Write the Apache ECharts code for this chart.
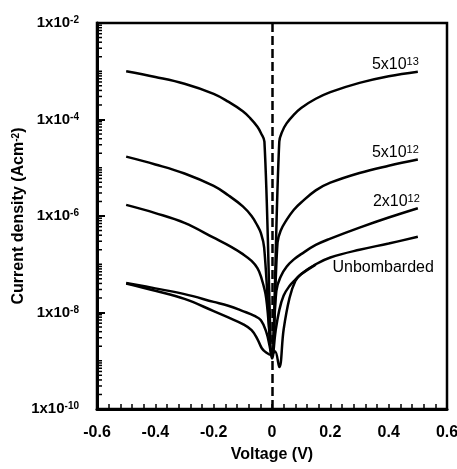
<!DOCTYPE html>
<html>
<head>
<meta charset="utf-8">
<script src="https://cdn.jsdelivr.net/npm/echarts@6/dist/echarts.min.js"></script>
<style>
html, body { margin: 0; padding: 0; background: #fff; }
#chart { width: 457px; height: 469px; }
</style>
</head>
<body>
<div id="chart"></div>
<script>
// voltage (V) / current density (A cm-2)
const v13 = [-0.5, -0.4, -0.3, -0.2, -0.15, -0.1, -0.075, -0.05, -0.038, -0.026, 0.0, 0.025, 0.035, 0.05, 0.075, 0.1, 0.15, 0.2, 0.3, 0.4, 0.5];
const j13 = [1.0e-3, 7.6e-4, 5.5e-4, 3.4e-4, 2.34e-4, 1.48e-4, 1.07e-4, 7.1e-5, 5.25e-5, 3.47e-5, 2.5e-9, 3.47e-5, 5.6e-5, 8.3e-5, 1.26e-4, 1.74e-4, 2.69e-4, 3.7e-4, 5.75e-4, 7.9e-4, 9.8e-4];

const v5e12 = [-0.5, -0.4, -0.3, -0.2, -0.15, -0.1, -0.07, -0.05, -0.038, -0.027, 0.0, 0.019, 0.03, 0.05, 0.075, 0.1, 0.15, 0.2, 0.3, 0.4, 0.5];
const j5e12 = [1.7e-5, 1.17e-5, 7.6e-6, 4.2e-6, 2.69e-6, 1.58e-6, 1.0e-6, 6.3e-7, 4.4e-7, 2.24e-7, 1.41e-9, 2.82e-7, 5.0e-7, 8.3e-7, 1.35e-6, 1.91e-6, 3.4e-6, 4.9e-6, 7.8e-6, 1.1e-5, 1.48e-5];

const v2e12 = [-0.5, -0.4, -0.3, -0.2, -0.14, -0.1, -0.07, -0.05, -0.038, -0.02, 0.0, 0.015, 0.03, 0.05, 0.075, 0.1, 0.15, 0.2, 0.3, 0.4, 0.5];
const j2e12 = [1.7e-6, 1.15e-6, 7.2e-7, 3.55e-7, 2.29e-7, 1.62e-7, 1.17e-7, 8.3e-8, 5.6e-8, 2.0e-8, 1.26e-9, 2.82e-8, 5.6e-8, 8.9e-8, 1.26e-7, 1.62e-7, 2.51e-7, 3.4e-7, 5.75e-7, 9.3e-7, 1.45e-6];

// unbombarded: two sweeps
const vUnA = [-0.5, -0.4, -0.3, -0.2, -0.15, -0.1, -0.07, -0.05, -0.035, -0.02, -0.003, 0.01, 0.025, 0.04, 0.06, 0.08, 0.1, 0.15, 0.2, 0.3, 0.4, 0.5];
const jUnA = [4.0e-8, 2.82e-8, 1.91e-8, 1.07e-8, 7.9e-9, 5.75e-9, 4.3e-9, 2.82e-9, 1.82e-9, 1.48e-9, 1.32e-9, 1.58e-9, 7.4e-10, 4.5e-9, 2.0e-8, 4.5e-8, 6.3e-8, 1.0e-7, 1.38e-7, 2.0e-7, 2.69e-7, 3.7e-7];
const vUnB = [-0.5, -0.4, -0.3, -0.2, -0.15, -0.1, -0.06, -0.038, -0.02, -0.008, 0.0, 0.012, 0.025, 0.04, 0.06, 0.08, 0.1, 0.15];
const jUnB = [4.1e-8, 3.16e-8, 2.4e-8, 1.66e-8, 1.38e-8, 1.07e-8, 8.5e-9, 6.9e-9, 4.0e-9, 2.0e-9, 1.12e-9, 4.0e-9, 1.12e-8, 2.24e-8, 3.55e-8, 4.8e-8, 6.2e-8, 9.8e-8];

const xTicks = [-0.6, -0.4, -0.2, 0, 0.2, 0.4, 0.6];

const curveLabels = [
  { text: '5x10{s|13}', v: v13, j: j13, dx: 1, dy: -7 },
  { text: '5x10{s|12}', v: v5e12, j: j5e12, dx: 1, dy: -7 },
  { text: '2x10{s|12}', v: v2e12, j: j2e12, dx: 2, dy: -7 },
  { text: 'Unbombarded', v: vUnA, j: jUnA, dx: 16, dy: 31 }
];

const zip = (a, b) => a.map((x, i) => [x, b[i]]);
const FONT = 'Liberation Sans';

const chart = echarts.init(document.getElementById('chart'));

function curve(name, v, j) {
  return {
    name: name,
    type: 'line',
    data: zip(v, j),
    showSymbol: false,
    smooth: 0.4,
    lineStyle: { color: '#000', width: 2.5 },
    animation: false
  };
}

const supStyle = { fontFamily: FONT, fontWeight: 'bold', fontSize: 10, verticalAlign: 'top', color: '#000' };

const option = {
  animation: false,
  backgroundColor: '#fff',
  grid: {
    left: 97, right: 10, top: 23, bottom: 60,
    containLabel: false,
    outerBoundsMode: 'none',
    show: true, borderColor: '#000', borderWidth: 2.5
  },
  xAxis: {
    type: 'value',
    min: -0.6, max: 0.6, interval: 0.2,
    name: 'Voltage (V)',
    nameLocation: 'middle',
    nameGap: 38,
    nameMoveOverlap: false,
    nameTextStyle: { fontFamily: FONT, fontWeight: 'bold', fontSize: 16, color: '#000' },
    axisLine: { onZero: false, lineStyle: { color: '#000', width: 3 } },
    axisTick: { inside: true, length: 5, lineStyle: { color: '#000', width: 1.5 } },
    minorTick: { show: true, splitNumber: 5, length: 5, lineStyle: { color: '#000', width: 1.5 } },
    splitLine: { show: false },
    axisLabel: {
      margin: 16,
      fontFamily: FONT, fontWeight: 'bold', fontSize: 16, color: '#000',
      formatter: v => {
        const r = Math.round(v * 10) / 10;
        return r === 0 ? '0' : r.toFixed(1);
      }
    }
  },
  yAxis: {
    type: 'log',
    min: 1e-10, max: 1e-2, interval: 2,
    name: 'Current density (Acm{s|-2})',
    nameLocation: 'middle',
    nameGap: 70,
    nameMoveOverlap: false,
    nameTextStyle: {
      fontFamily: FONT, fontWeight: 'bold', fontSize: 16, color: '#000',
      rich: { s: supStyle }
    },
    axisLine: { show: true, onZero: false, lineStyle: { color: '#000', width: 3 } },
    axisTick: { inside: true, length: 8, lineStyle: { color: '#000', width: 2 } },
    splitLine: { show: false },
    axisLabel: {
      margin: 18,
      fontFamily: FONT, fontWeight: 'bold', fontSize: 15, color: '#000',
      formatter: v => '1x10{s|' + Math.round(Math.log10(v)) + '}',
      rich: { s: supStyle }
    }
  },
  series: [
    curve('5x10^13', v13, j13),
    curve('5x10^12', v5e12, j5e12),
    curve('2x10^12', v2e12, j2e12),
    curve('Unbombarded', vUnA, jUnA),
    curve('Unbombarded (sweep 2)', vUnB, jUnB),
    {
      type: 'line',
      data: [],
      markLine: {
        silent: true,
        symbol: 'none',
        label: { show: false },
        lineStyle: { color: '#000', width: 2.5, type: [9, 4] },
        data: [{ xAxis: 0 }]
      }
    }
  ]
};

chart.setOption(option);

// log minor ticks on the y axis and curve labels, placed through the axes
const graphics = [];
const x0 = chart.convertToPixel({ xAxisIndex: 0 }, xTicks[0]);
for (let d = -10; d < -2; d++) {
  for (let m = 1; m <= 9; m++) {
    if (m === 1 && d % 2 === 0) continue;
    const y = chart.convertToPixel({ yAxisIndex: 0 }, m * Math.pow(10, d));
    graphics.push({
      type: 'line',
      shape: { x1: x0, y1: y, x2: x0 + 5, y2: y },
      style: { stroke: '#000', lineWidth: 1.5 },
      silent: true
    });
  }
}
curveLabels.forEach(c => {
  const n = c.v.length - 1;
  const p = chart.convertToPixel({ seriesIndex: 0 }, [c.v[n], c.j[n]]);
  graphics.push({
    type: 'text',
    x: p[0] + c.dx,
    y: p[1] + c.dy,
    silent: true,
    style: {
      text: c.text,
      align: 'right',
      verticalAlign: 'middle',
      fontFamily: FONT,
      fontSize: 16,
      fill: '#000',
      rich: {
        s: { fontFamily: FONT, fontSize: 11, verticalAlign: 'top', fill: '#000' }
      }
    }
  });
});
chart.setOption({ graphic: graphics });
</script>
</body>
</html>
